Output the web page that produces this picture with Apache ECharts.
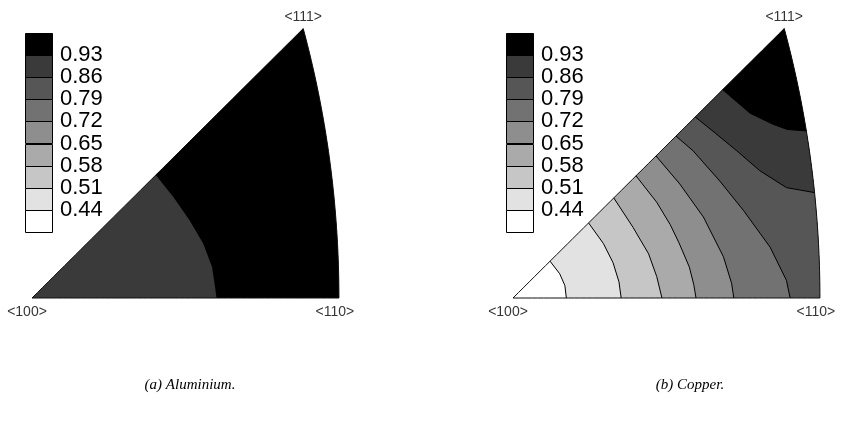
<!DOCTYPE html>
<html>
<head>
<meta charset="utf-8">
<script src="https://cdn.jsdelivr.net/npm/echarts@6/dist/echarts.min.js"></script>
<style>
  html, body { margin: 0; padding: 0; background: #fff; }
  #chart { width: 851px; height: 423px; }
</style>
</head>
<body>
<div id="chart"></div>
<script>
// Contour levels shared by both inverse pole figures
const LEVELS = [0.44, 0.51, 0.58, 0.65, 0.72, 0.79, 0.86, 0.93];
// Fill for each band: below 0.44, 0.44-0.51, ..., above 0.93
const BAND_COLORS = ['#ffffff', '#e2e2e2', '#c6c6c6', '#aaaaaa', '#8e8e8e', '#727272', '#565656', '#3a3a3a', '#000000'];
const CORNER_LABELS = ['<100>', '<110>', '<111>'];
const CAPTIONS = ['(a) Aluminium.', '(b) Copper.'];

// Iso-lines in stereographic coordinates, from the <100>-<111> edge outward
// Aluminium: lowest band present is 0.86-0.93
const alLowestBand = 7;
const alIso093 = [[0.167, 0.167], [0.191, 0.137], [0.213, 0.105], [0.231, 0.074], [0.243, 0.042], [0.247, 0.015], [0.249, 0]];

// Copper: full range of bands
const cuLowestBand = 0;
const cuIso044 = [[0.050, 0.050], [0.063, 0.033], [0.070, 0.017], [0.072, 0]];
const cuIso051 = [[0.102, 0.102], [0.122, 0.074], [0.135, 0.048], [0.143, 0.022], [0.146, 0]];
const cuIso058 = [[0.136, 0.136], [0.162, 0.096], [0.183, 0.060], [0.194, 0.029], [0.201, 0]];
const cuIso065 = [[0.166, 0.166], [0.194, 0.130], [0.212, 0.100], [0.224, 0.075], [0.238, 0.042], [0.244, 0.018], [0.247, 0]];
const cuIso072 = [[0.193, 0.193], [0.225, 0.155], [0.257, 0.110], [0.284, 0.056], [0.295, 0.020], [0.298, 0]];
const cuIso079 = [[0.220, 0.220], [0.243, 0.200], [0.279, 0.159], [0.311, 0.119], [0.347, 0.069], [0.369, 0.024], [0.374, 0]];
const cuIso086 = [[0.246, 0.246], [0.273, 0.224], [0.302, 0.200], [0.333, 0.173], [0.369, 0.150], [0.405, 0.143]];
const cuIso093 = [[0.283, 0.283], [0.320, 0.251], [0.351, 0.236], [0.370, 0.229], [0.396, 0.227]];

const alIsolines = [{ level: 0.93, pts: alIso093 }];
const cuIsolines = [
  { level: 0.44, pts: cuIso044 }, { level: 0.51, pts: cuIso051 },
  { level: 0.58, pts: cuIso058 }, { level: 0.65, pts: cuIso065 },
  { level: 0.72, pts: cuIso072 }, { level: 0.79, pts: cuIso079 },
  { level: 0.86, pts: cuIso086 }, { level: 0.93, pts: cuIso093 }
];

// ---- Standard stereographic triangle geometry ----
const R2 = Math.SQRT2;
const X110 = R2 - 1;                    // <110> on the equator
const P111 = (Math.sqrt(3) - 1) / 2;    // <111> (x = y)
const TH111 = Math.atan2(P111, P111 + 1); // arc angle seen from (-1, 0)

// Boundary parameter: 0..1 bottom edge, 1..2 great-circle arc, 2..3 diagonal back to <100>
function edgePoint(p) {
  if (p <= 1) return [p * X110, 0];
  if (p <= 2) {
    const th = (p - 1) * TH111;
    return [-1 + R2 * Math.cos(th), R2 * Math.sin(th)];
  }
  const s = P111 * (1 - (p - 2));
  return [s, s];
}
function boundary(pa, pb) {
  const out = [edgePoint(pa)];
  for (let k = Math.floor(pa * 50) + 1; k / 50 < pb - 1e-9; k++) out.push(edgePoint(k / 50));
  out.push(edgePoint(pb));
  return out;
}
// Snap an iso-line's ends onto the triangle edges
function snapLine(pts) {
  const a = pts[0], b = pts[pts.length - 1];
  const s = (a[0] + a[1]) / 2;
  const start = [s, s];
  let end, pEnd;
  if (b[1] === 0) { end = [b[0], 0]; pEnd = b[0] / X110; }
  else {
    const th = Math.atan2(b[1], b[0] + 1);
    end = [-1 + R2 * Math.cos(th), R2 * Math.sin(th)];
    pEnd = 1 + th / TH111;
  }
  const pStart = 2 + (1 - s / P111);
  return { line: [start].concat(pts.slice(1, -1), [end]), pStart, pEnd };
}
function buildRegions(lowestBand, isolines) {
  const regions = [{ band: lowestBand, points: boundary(0, 3) }];
  isolines.forEach(iso => {
    const sn = snapLine(iso.pts);
    regions.push({
      band: LEVELS.indexOf(iso.level) + 1,
      points: sn.line.concat(boundary(sn.pEnd, sn.pStart).slice(1, -1))
    });
  });
  return regions;
}

const panels = [
  { regions: buildRegions(alLowestBand, alIsolines), lines: [], left: 32, legendLeft: 25, caption: CAPTIONS[0], cx: 190 },
  { regions: buildRegions(cuLowestBand, cuIsolines), lines: cuIsolines.map(i => snapLine(i.pts).line), left: 513, legendLeft: 506, caption: CAPTIONS[1], cx: 690 }
];

// Pixel scale of the projection
const SX = 741, SY = 736;
const XMAX = 0.42, YMAX = 0.37, BASE_Y = 298;

const grids = [], xAxes = [], yAxes = [], series = [], graphics = [];
const FONT = '"Liberation Sans", Arial, Helvetica, sans-serif';

panels.forEach((pn, k) => {
  const gi = grids.length;
  grids.push({ left: pn.left, top: BASE_Y - YMAX * SY, width: XMAX * SX, height: YMAX * SY });
  xAxes.push({ gridIndex: gi, type: 'value', min: 0, max: XMAX, show: false });
  yAxes.push({ gridIndex: gi, type: 'value', min: 0, max: YMAX, show: false });

  // filled bands, painted from low to high
  series.push({
    type: 'custom', xAxisIndex: gi, yAxisIndex: gi, silent: true, z: 2,
    data: pn.regions.map(r => [r.points[0][0], r.points[0][1], r.band]),
    renderItem(params, api) {
      const r = pn.regions[params.dataIndex];
      return {
        type: 'polygon',
        shape: { points: r.points.map(p => api.coord(p)) },
        style: { fill: BAND_COLORS[r.band], stroke: null }
      };
    }
  });
  // iso-lines
  pn.lines.forEach(line => {
    series.push({
      type: 'line', xAxisIndex: gi, yAxisIndex: gi, silent: true, z: 3,
      data: line, symbol: 'none', showSymbol: false,
      lineStyle: { color: '#000', width: 1 }
    });
  });
  // triangle outline
  series.push({
    type: 'custom', xAxisIndex: gi, yAxisIndex: gi, silent: true, z: 4,
    data: [[0, 0]],
    renderItem(params, api) {
      return {
        type: 'polygon',
        shape: { points: boundary(0, 3).map(p => api.coord(p)) },
        style: { fill: null, stroke: '#111', lineWidth: 1 }
      };
    }
  });
  // pole labels
  series.push({
    type: 'scatter', xAxisIndex: gi, yAxisIndex: gi, silent: true, z: 5,
    symbolSize: 1, itemStyle: { color: 'rgba(0,0,0,0)' },
    data: [
      { value: [0, 0], label: { position: 'bottom', distance: 7, offset: [-5, 0], formatter: CORNER_LABELS[0] } },
      { value: [X110, 0], label: { position: 'bottom', distance: 7, offset: [-4, 0], formatter: CORNER_LABELS[1] } },
      { value: [P111, P111], label: { position: 'top', distance: 4, offset: [0, 0], formatter: CORNER_LABELS[2] } }
    ],
    label: { show: true, fontSize: 14, color: '#000', fontFamily: FONT }
  });

  // colour key
  const li = grids.length;
  grids.push({ left: pn.legendLeft, top: 32.5, width: 27, height: 200 });
  xAxes.push({ gridIndex: li, type: 'value', min: 0, max: 1, show: false });
  yAxes.push({
    gridIndex: li, type: 'value', min: 0, max: 9, interval: 1, position: 'right',
    axisLine: { show: false }, axisTick: { show: false }, splitLine: { show: false },
    axisLabel: {
      margin: 8, fontSize: 22, color: '#000', fontFamily: FONT, padding: [0, 0, 4, 0],
      formatter: v => (v >= 1 && v <= LEVELS.length) ? LEVELS[v - 1].toFixed(2) : ''
    }
  });
  series.push({
    type: 'custom', xAxisIndex: li, yAxisIndex: li, silent: true, z: 2,
    data: BAND_COLORS.map((c, i) => [0, i]),
    renderItem(params, api) {
      const i = api.value(1);
      const p0 = api.coord([0, i]), p1 = api.coord([1, i + 1]);
      return {
        type: 'rect',
        shape: { x: Math.round(p0[0]) + 0.5, y: Math.round(p1[1]) + 0.5, width: Math.round(p1[0] - p0[0]), height: Math.round(p0[1] - p1[1]) },
        style: { fill: BAND_COLORS[i], stroke: '#000', lineWidth: 1 }
      };
    }
  });

  graphics.push({
    type: 'text', x: pn.cx, y: 385,
    style: { text: pn.caption, align: 'center', verticalAlign: 'middle', fill: '#000',
             fontSize: 15, fontStyle: 'italic', fontFamily: '"Liberation Serif", "DejaVu Serif", serif' }
  });
});

const chart = echarts.init(document.getElementById('chart'), null, { renderer: 'canvas' });
chart.setOption({
  animation: false,
  backgroundColor: '#fff',
  grid: grids, xAxis: xAxes, yAxis: yAxes,
  series, graphic: graphics
});
</script>
</body>
</html>
